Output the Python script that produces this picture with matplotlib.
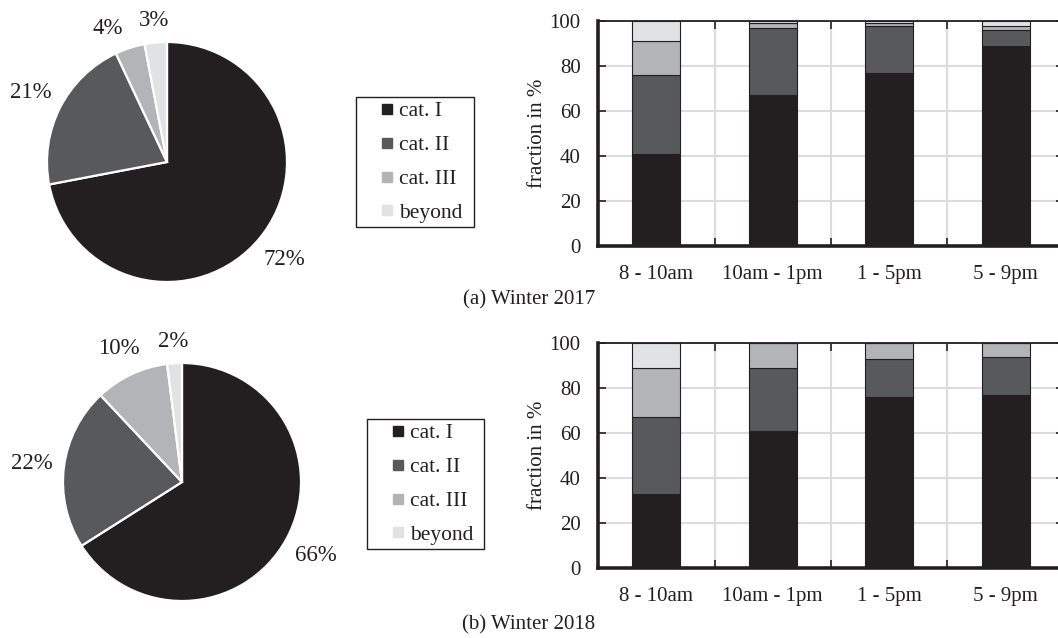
import numpy as np
import matplotlib
matplotlib.use("Agg")
import matplotlib.pyplot as plt
from matplotlib.lines import Line2D

plt.rcParams["font.family"] = ["Liberation Serif", "DejaVu Serif"]
plt.rcParams["text.color"] = "#231f20"
plt.rcParams["axes.labelcolor"] = "#231f20"
plt.rcParams["xtick.color"] = "#231f20"
plt.rcParams["ytick.color"] = "#231f20"

# categories and colours
categories = ["cat. I", "cat. II", "cat. III", "beyond"]
colors = ["#231f20", "#58595b", "#b3b4b7", "#e1e2e4"]
slots = ["8 - 10am", "10am - 1pm", "1 - 5pm", "5 - 9pm"]

# overall shares (pie), percent
pie_2017 = [72, 21, 4, 3]
pie_2018 = [66, 22, 10, 2]

# shares per time slot (stacked bars), percent
cat1_2017 = [41, 67, 77, 89]
cat2_2017 = [35, 30, 21, 7]
cat3_2017 = [15, 2, 1, 2]
beyond_2017 = [9, 1, 1, 2]

cat1_2018 = [33, 61, 76, 77]
cat2_2018 = [34, 28, 17, 17]
cat3_2018 = [22, 11, 7, 6]
beyond_2018 = [11, 0, 0, 0]

W, H = 1058, 638
fig = plt.figure(figsize=(W / 100, H / 100), dpi=100)


def px_axes(x0, y0, w, h):
    # axes placed in pixel coordinates (origin top-left)
    return fig.add_axes([x0 / W, 1 - (y0 + h) / H, w / W, h / H])


def place_label(t, ang, r):
    # put the label just outside the rim, clear of the wedge
    bb = t.get_window_extent()
    off = 10 + bb.width / 2 * abs(np.cos(ang)) + bb.height / 2 * abs(np.sin(ang))
    d = 1 + off / r
    t.set_position((d * np.cos(ang), d * np.sin(ang)))


def draw_pie(cx, cy, r, values):
    ax = px_axes(cx - r, cy - r, 2 * r, 2 * r)
    wedges, _ = ax.pie(values, colors=colors, startangle=90, counterclock=False,
                       radius=1, wedgeprops=dict(edgecolor="white", linewidth=1.6))
    ax.set_xlim(-1, 1)
    ax.set_ylim(-1, 1)
    labels = []
    for w, v in zip(wedges, values):
        ang = np.deg2rad((w.theta1 + w.theta2) / 2)
        t = ax.text(0, 0, f"{v}%", ha="center", va="center", fontsize=16.5)
        labels.append([t, ang])
    fig.canvas.draw()
    for t, ang in labels:
        place_label(t, ang, r)
    # walk backwards and nudge crowded labels counter-clockwise
    renderer = fig.canvas.get_renderer()
    for i in range(len(labels) - 2, -1, -1):
        t, ang = labels[i]
        nb = labels[i + 1][0].get_window_extent(renderer)
        for _ in range(40):
            bb = t.get_window_extent(renderer)
            if bb.x1 + 14 < nb.x0 or bb.y1 + 4 < nb.y0 or bb.y0 > nb.y1 + 4:
                break
            ang += np.deg2rad(1)
            place_label(t, ang, r)
        labels[i][1] = ang


def draw_bars(y0, series):
    ax = px_axes(598, y0, 466, 225)
    x = np.arange(len(slots))
    bottom = np.zeros(len(slots))
    for vals, c in zip(series, colors):
        ax.bar(x, vals, width=0.41, bottom=bottom, color=c,
               edgecolor="#231f20", linewidth=0.8, zorder=3)
        bottom += np.array(vals)
    ax.set_xlim(-0.5, 3.5)
    ax.set_ylim(0, 100)
    ax.set_yticks(range(0, 101, 20))
    ax.set_xticks(x)
    ax.set_xticklabels(slots, fontsize=15)
    ax.set_xticks(x[:-1] + 0.5, minor=True)
    ax.tick_params(axis="x", which="major", length=0, pad=14)
    ax.tick_params(axis="x", which="minor", direction="in", length=6,
                   width=1.2, top=True, bottom=True)
    ax.tick_params(axis="y", direction="in", length=6, width=1.2,
                   left=True, right=True, labelsize=15, pad=12.5)
    ax.grid(axis="y", which="major", color="#dcdcdc", linewidth=1.5)
    ax.grid(axis="x", which="minor", color="#dcdcdc", linewidth=1.5)
    ax.set_axisbelow(True)
    for side, lw in [("left", 2.6), ("bottom", 2.6), ("top", 1.3), ("right", 1.3)]:
        ax.spines[side].set_linewidth(lw)
        ax.spines[side].set_color("#231f20")
    ax.set_ylabel("fraction in %", fontsize=15)
    ax.yaxis.set_label_coords(-51 / 466, 0.5)
    return ax


def draw_legend(x0, y0, w):
    handles = [Line2D([], [], linestyle="none", marker="s", markersize=7,
                      markerfacecolor=c, markeredgecolor=c) for c in colors]
    fig.legend(handles, categories, loc="upper left", mode="expand",
               bbox_to_anchor=(x0 / W, 1 - y0 / H - 0.01, w / W, 0.01),
               borderaxespad=0, fontsize=15.5, fancybox=False,
               edgecolor="#231f20", framealpha=1, handlelength=2.48,
               handletextpad=-0.68, labelspacing=0.64, borderpad=0.2)


draw_pie(167, 162, 120, pie_2017)
draw_pie(182, 482, 119, pie_2018)

draw_bars(21, [cat1_2017, cat2_2017, cat3_2017, beyond_2017])
draw_bars(343, [cat1_2018, cat2_2018, cat3_2018, beyond_2018])

draw_legend(356, 97, 118)
draw_legend(367, 419, 117)

fig.text(529 / W, 1 - 300 / H, "(a) Winter 2017", ha="center", va="center", fontsize=15)
fig.text(529 / W, 1 - 625 / H, "(b) Winter 2018", ha="center", va="center", fontsize=15)

fig.savefig("out.png", dpi=100)
